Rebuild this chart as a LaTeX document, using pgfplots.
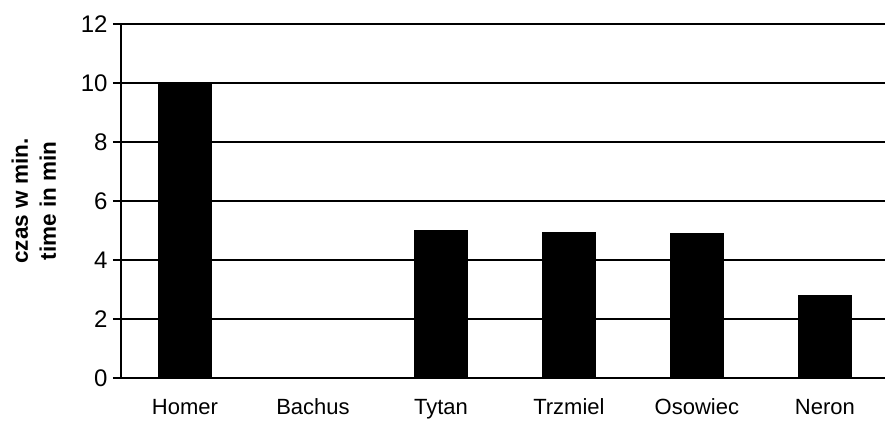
\documentclass[border=0pt]{standalone}
\usepackage{pgfplots}
\pgfplotsset{compat=1.18}
\usepackage{fontspec}
\setmainfont{Liberation Sans}
\begin{document}
\begin{tikzpicture}
\useasboundingbox (0,0) rectangle (885pt,431pt);
\begin{axis}[
  at={(121pt,53pt)}, anchor=south west,
  width=764pt, height=354pt, scale only axis,
  xmin=-0.5, xmax=5.47, ymin=0, ymax=12,
  ytick={0,2,...,12},
  xtick={0,1,2,3,4,5},
  xticklabels={Homer,Bachus,Tytan,Trzmiel,Osowiec,Neron},
  axis x line=bottom, axis y line=left,
  axis line style={-, line width=1.2pt},
  ymajorgrids, grid style={black, line width=1.2pt},
  tick align=outside, major tick length=8pt,
  ytick style={black, line width=1.2pt},
  xtick style={draw=none},
  /pgf/number format/assume math mode=true,
  tick label style={font=\fontsize{22}{26}\selectfont},
  yticklabel style={font=\fontsize{24}{28}\selectfont, xshift=-2pt},
  xticklabel style={anchor=base, yshift=-28pt},
  ylabel={czas w min.\\time in min},
  ylabel style={at={(rel axis cs:-0.114,0.5)}, anchor=center,
    align=center, font=\bfseries\fontsize{22.5}{28}\selectfont},
  clip=false,
]
\addplot[ybar, bar width=53pt, fill=black, draw=black] coordinates {
  (0,10) (1,0) (2,5) (3,4.93) (4,4.9) (5,2.8)
};
\end{axis}
\end{tikzpicture}
\end{document}
